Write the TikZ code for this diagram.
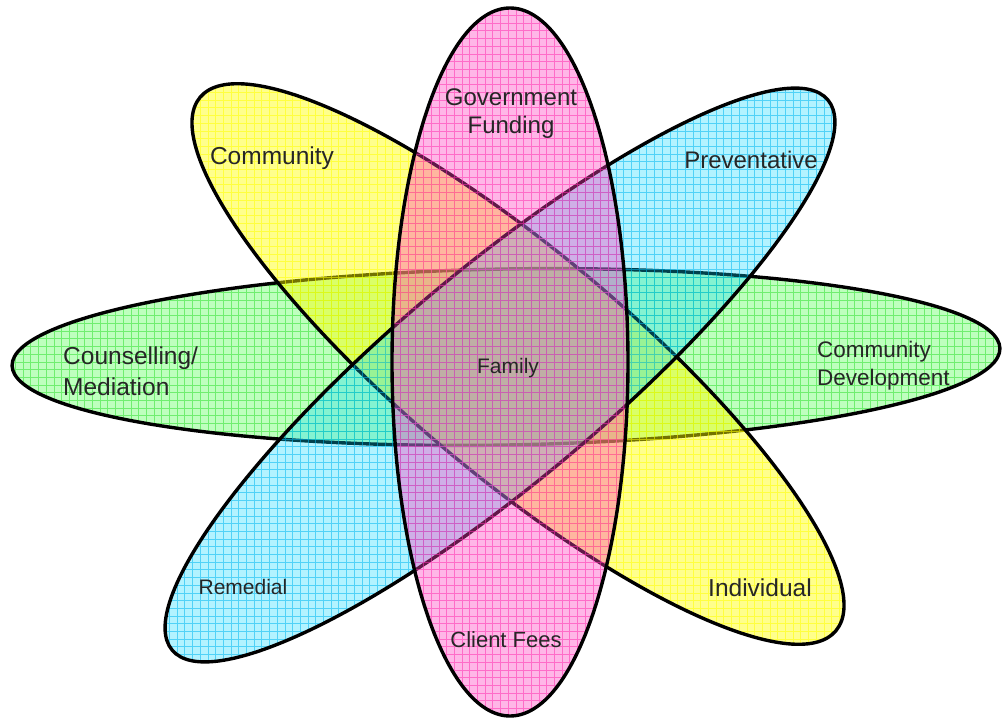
\documentclass[tikz,border=0pt]{standalone}
\usepackage{fontspec}
\setmainfont{Liberation Sans}

\definecolor{greenfill}{HTML}{92FF92}
\definecolor{greengrid}{HTML}{30E030}
\definecolor{yellowfill}{HTML}{FFFF00}
\definecolor{yellowgrid}{HTML}{FFFF00}
\definecolor{bluefill}{HTML}{00D8FF}
\definecolor{bluegrid}{HTML}{00B8F0}
\definecolor{pinkfill}{HTML}{FF40C0}
\definecolor{pinkgrid}{HTML}{FF30B0}

\tikzset{
	petal/.style={fill=#1fill, fill opacity=0.42},
	petalgrid/.style={draw=#1grid, draw opacity=0.55, line width=0.8},
	rim/.style={draw=black, line width=3.4},
	petaltext/.style={text=black!85, inner sep=0pt},
}

\begin{document}
\begin{tikzpicture}[x=1pt, y=-1pt]
		\useasboundingbox (0, 0) rectangle (1002, 720);
		\foreach \cx/\cy/\rx/\ry/\ang/\col/\op in {506/357/494/88/1/green/0.6, 518/364/415/112/-40/yellow/0.45, 500/375/428/106/40/blue/0.3, 510/362/118/354/0/pink/0.38}{
			\fill[petal=\col, fill opacity=\op, rotate around={\ang:(\cx, \cy)}] (\cx, \cy) ellipse [x radius=\rx, y radius=\ry];
			\begin{scope}
				\clip[rotate around={\ang:(\cx, \cy)}] (\cx, \cy) ellipse [x radius=\rx, y radius=\ry];
				\draw[petalgrid=\col] \foreach \gx in {0, 7.7, ..., 1002}{(\gx, 0) -- (\gx, 720)}
					\foreach \gy in {0, 7.7, ..., 720}{(0, \gy) -- (1002, \gy)};
			\end{scope}
			\draw[rim, rotate around={\ang:(\cx, \cy)}] (\cx, \cy) ellipse [x radius=\rx, y radius=\ry];
		}
		\node[petaltext, font=\fontsize{24}{28}\selectfont, align=center] (funding) at (511, 114) {Government\\Funding};
		\node[petaltext, font=\fontsize{24.5}{28}\selectfont] (community) at (272, 158) {Community};
		\node[petaltext, font=\fontsize{24}{28}\selectfont] (preventative) at (751, 160) {Preventative};
		\node[petaltext, font=\fontsize{24.5}{31}\selectfont, align=left, anchor=west] (counselling) at (63, 371) {Counselling/\\Mediation};
		\node[petaltext, font=\fontsize{21}{25}\selectfont] (family) at (508, 368) {Family};
		\node[petaltext, font=\fontsize{22.5}{28}\selectfont, align=left, anchor=west] (development) at (817, 366) {Community\\Development};
		\node[petaltext, font=\fontsize{21}{25}\selectfont] (remedial) at (243, 587) {Remedial};
		\node[petaltext, font=\fontsize{24.5}{28}\selectfont] (individual) at (760, 588) {Individual};
		\node[petaltext, font=\fontsize{22}{26}\selectfont] (fees) at (506, 640) {Client Fees};
	\end{tikzpicture}
\end{document}
